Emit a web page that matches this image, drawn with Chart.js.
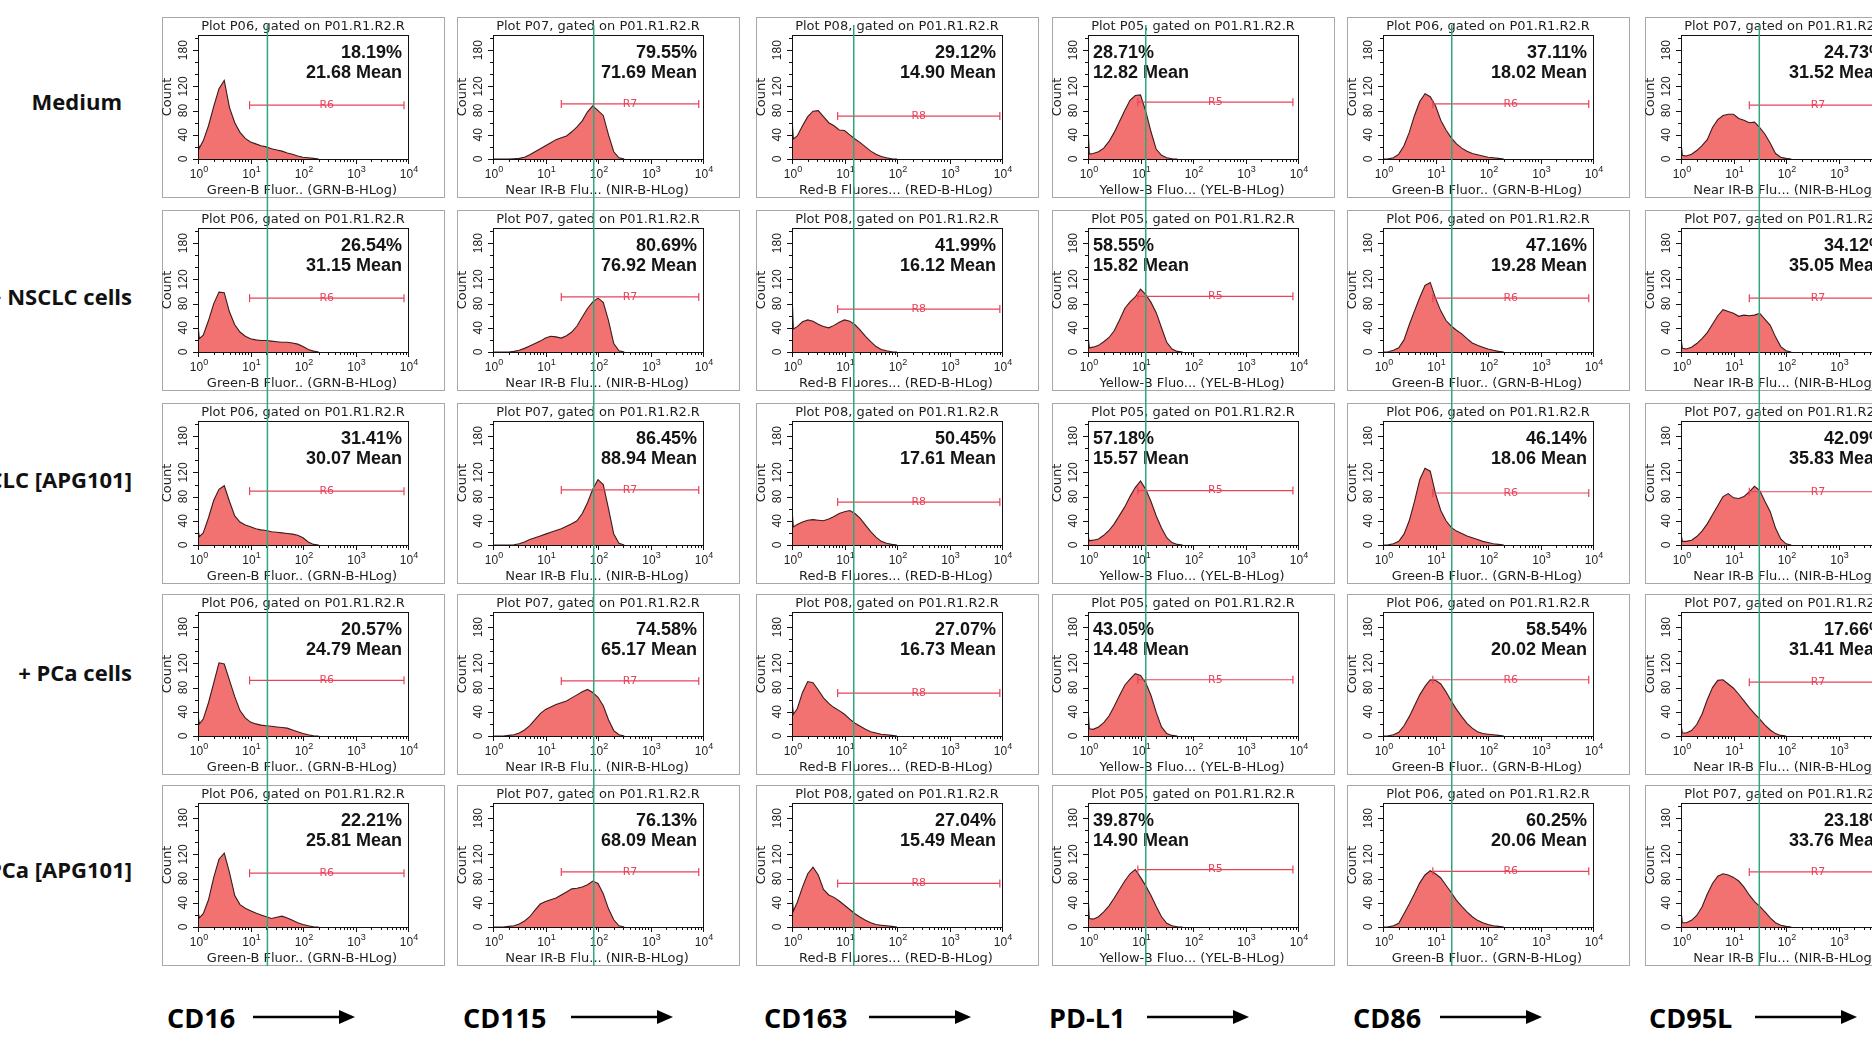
<!DOCTYPE html>
<html>
<head>
<meta charset="utf-8">
<script src="https://cdn.jsdelivr.net/npm/chart.js@4.4.1/dist/chart.umd.min.js"></script>
<style>
html, body { margin: 0; padding: 0; background: #fff; }
body { width: 1872px; height: 1050px; overflow: hidden; position: relative; }
canvas { position: absolute; }
.rowlab { position: absolute; font: 700 22px "Open Sans"; color: #111; white-space: nowrap; transform: translate(-100%, -50%); }
.marker { position: absolute; font: 700 27px "Open Sans"; color: #000; white-space: nowrap; transform: translateY(-50%); }
.arrow { position: absolute; }
</style>
</head>
<body>
<script>
// x positions of the histogram channels (log spaced, 10^0 .. 10^3)
const bins = [1, 1.06, 1.259, 1.585, 1.995, 2.512, 3.162, 3.981, 5.012, 6.31, 7.943,
  10, 12.59, 15.85, 19.95, 25.12, 31.62, 39.81, 50.12, 63.1, 79.43,
  100, 125.9, 158.5, 199.5, 251.2, 316.2, 398.1, 501.2, 631, 794.3, 1000]

const markers = ['CD16', 'CD115', 'CD163', 'PD-L1', 'CD86', 'CD95L']
const plotNames = ['P06', 'P07', 'P08', 'P05', 'P06', 'P07']
const axisTitles = ['Green-B Fluor.. (GRN-B-HLog)', 'Near IR-B Flu... (NIR-B-HLog)', 'Red-B Fluores... (RED-B-HLog)',
  'Yellow-B Fluo... (YEL-B-HLog)', 'Green-B Fluor.. (GRN-B-HLog)', 'Near IR-B Flu... (NIR-B-HLog)']
const gateNames = ['R6', 'R7', 'R8', 'R5', 'R6', 'R7']
const rowLabels = ['Medium', '+ NSCLC cells', '+ NSCLC [APG101]', '+ PCa cells', '+ PCa [APG101]']

const pctRows = [
  ['18.19', '79.55', '29.12', '28.71', '37.11', '24.73'],
  ['26.54', '80.69', '41.99', '58.55', '47.16', '34.12'],
  ['31.41', '86.45', '50.45', '57.18', '46.14', '42.09'],
  ['20.57', '74.58', '27.07', '43.05', '58.54', '17.66'],
  ['22.21', '76.13', '27.04', '39.87', '60.25', '23.18']]
const meanRows = [
  ['21.68', '71.69', '14.90', '12.82', '18.02', '31.52'],
  ['31.15', '76.92', '16.12', '15.82', '19.28', '35.05'],
  ['30.07', '88.94', '17.61', '15.57', '18.06', '35.83'],
  ['24.79', '65.17', '16.73', '14.48', '20.02', '31.41'],
  ['25.81', '68.09', '15.49', '14.90', '20.06', '33.76']]

// counts per channel, one array per row (Medium, +NSCLC, +NSCLC APG101, +PCa, +PCa APG101)
const cd16Counts = [
  [28, 18, 30, 55, 87, 116, 130, 85, 60, 44, 34, 28, 25, 22, 20, 17, 15, 13, 10, 8, 5, 3, 2, 1, 0],
  [45, 22, 28, 52, 80, 99, 98, 66, 45, 33, 26, 22, 20, 19, 19, 18, 17, 16, 16, 15, 13, 9, 4, 1.5, 0],
  [27, 14, 20, 45, 74, 92, 98, 72, 48, 38, 33, 30, 27, 25, 24, 22, 21, 20, 19, 18, 16, 12, 5, 1, 0],
  [35, 20, 28, 55, 88, 121, 119, 92, 65, 42, 30, 23, 20, 18, 17, 16, 15, 14, 13, 10, 7, 4, 2, 0.5, 0],
  [26, 15, 22, 45, 82, 112, 122, 90, 52, 37, 31, 27, 23, 20, 17, 14, 16, 18, 15, 11, 7, 4, 2, 0.5, 0]]
const cd115Counts = [
  [0, 0, 0, 0, 0, 0.5, 1, 3, 7, 12, 17, 22, 27, 32, 35, 38, 45, 53, 63, 78, 88, 80, 72, 40, 12, 2, 0],
  [0, 0, 0, 0, 0, 1, 3, 6, 10, 14, 18, 23, 26, 25, 23, 27, 33, 43, 58, 72, 83, 89, 82, 52, 14, 2, 0],
  [0, 0, 0, 0, 0, 0.5, 2, 5, 9, 12, 15, 18, 21, 24, 27, 31, 35, 40, 52, 70, 92, 108, 100, 60, 18, 3, 0],
  [0, 0, 0, 0, 1, 2, 5, 10, 17, 27, 37, 44, 48, 52, 55, 58, 63, 68, 73, 77, 72, 64, 50, 27, 9, 2, 0],
  [0, 0, 0, 0, 1, 2, 5, 10, 17, 28, 38, 42, 45, 48, 53, 58, 63, 64, 66, 70, 76, 72, 55, 30, 12, 2, 0]]
const cd163Counts = [
  [68, 33, 38, 55, 70, 79, 80, 70, 60, 55, 48, 47, 40, 33, 27, 20, 13, 8, 4, 2, 0.5, 0],
  [100, 38, 42, 50, 53, 51, 46, 42, 40, 44, 49, 53, 51, 45, 36, 26, 17, 9, 4, 2, 0.5, 0],
  [60, 30, 34, 38, 41, 42, 41, 40, 43, 47, 52, 55, 57, 52, 44, 33, 22, 13, 6, 3, 1, 0],
  [60, 36, 45, 72, 90, 88, 76, 63, 54, 47, 42, 36, 28, 21, 16, 11, 7, 5, 3, 2, 1, 0],
  [56, 26, 41, 66, 88, 99, 86, 62, 53, 49, 43, 36, 29, 22, 16, 11, 7, 4, 3, 2, 1, 0]]
const pdl1Counts = [
  [55, 8, 9, 12, 18, 29, 44, 62, 80, 97, 105, 106, 79, 45, 16, 6, 2, 0.5, 0],
  [28, 7, 8, 11, 17, 24, 35, 53, 72, 83, 91, 104, 95, 82, 65, 40, 16, 5, 1, 0],
  [14, 7, 8, 10, 16, 24, 35, 49, 63, 80, 95, 106, 92, 72, 48, 28, 12, 4, 1, 0],
  [48, 12, 11, 15, 22, 33, 49, 67, 84, 94, 103, 100, 88, 67, 39, 15, 4, 1, 0],
  [55, 14, 13, 17, 25, 35, 48, 62, 76, 88, 95, 82, 68, 52, 34, 17, 6, 2, 0.5, 0]]
const cd86Counts = [
  [0, 0, 0.5, 2, 8, 22, 44, 72, 95, 108, 103, 88, 64, 48, 35, 25, 18, 13, 9, 7, 5, 3, 2, 1, 0],
  [0, 0, 0.5, 3, 7, 20, 45, 68, 90, 110, 115, 89, 68, 52, 43, 36, 30, 22, 15, 11, 8, 5, 3, 1, 0],
  [0, 0, 0.5, 2, 6, 18, 40, 72, 108, 127, 122, 85, 57, 40, 29, 23, 19, 15, 12, 9, 6, 4, 2, 1, 0],
  [0, 0, 0.5, 2, 6, 17, 32, 50, 68, 82, 93, 92, 86, 73, 58, 44, 32, 21, 13, 7, 4, 3, 2, 1, 0],
  [0, 0, 0.5, 2, 6, 22, 38, 55, 73, 86, 93, 88, 81, 69, 57, 44, 34, 25, 17, 11, 7, 4, 2, 1, 0]]
const cd95lCounts = [
  [28, 6, 5, 8, 14, 22, 32, 52, 65, 72, 74, 74, 67, 64, 60, 61, 52, 41, 26, 9, 3, 1, 0],
  [23, 6, 5, 8, 14, 22, 32, 46, 60, 70, 67, 64, 59, 61, 60, 61, 64, 54, 44, 25, 9, 2, 0],
  [19, 6, 6, 8, 14, 23, 35, 50, 65, 80, 85, 78, 77, 80, 88, 97, 90, 72, 55, 28, 10, 2, 0],
  [20, 5, 5, 9, 19, 36, 60, 80, 92, 93, 86, 79, 69, 58, 47, 37, 28, 18, 10, 4, 1, 0],
  [28, 7, 7, 11, 19, 33, 54, 72, 84, 88, 86, 82, 76, 66, 53, 42, 34, 25, 15, 7, 3, 1, 0]]
const allCounts = [cd16Counts, cd115Counts, cd163Counts, pdl1Counts, cd86Counts, cd95lCounts]

// gate marker: start / end channel per marker, height (count) per row
const gateLow = [9.6, 20, 7.4, 8.9, 8.9, 20]
const gateHigh = [8400, 8300, 9100, 8000, 8300, 8300]
const gateCounts = [
  [89, 89, 89, 92, 89],
  [91, 91, 91, 91, 91],
  [71, 71, 71, 71, 72],
  [94, 92, 90, 93, 95],
  [91, 89, 86, 93, 92],
  [89, 89, 88, 89, 91]]
// green reference line channel per marker
const greenLine = [21, 83, 15, 12.6, 20.4, 31]

const yTicks = [0, 40, 80, 120, 180]

// page layout
const plotLeft = [198, 493, 792, 1088, 1383, 1681]
const rowTop = [17, 210, 403, 594, 785]
const rowH = [193, 193, 191, 191, 190]
const rowLabelY = [101, 296, 479, 672, 869]
const rowLabelRight = [122, 132, 132, 132, 132]
const markerX = [167, 463, 764, 1049, 1353, 1649]
const arrowX = [253, 571, 869, 1147, 1440, 1755]

const flowPanel = {
  id: 'flowPanel',
  beforeDraw(chart, args, o) {
    const ctx = chart.ctx
    ctx.save()
    ctx.strokeStyle = '#a8a8a8'
    ctx.lineWidth = 1
    ctx.strokeRect(4.5, 7.5, 282, 180)
    ctx.restore()
  },
  afterDatasetsDraw(chart, args, o) {
    const ctx = chart.ctx, a = chart.chartArea
    const { x, y } = chart.scales
    const mid = (a.left + a.right) / 2
    ctx.save()
    ctx.fillStyle = '#1e1e1e'
    ctx.textAlign = 'center'
    ctx.textBaseline = 'middle'
    ctx.font = '13px "DejaVu Sans"'
    ctx.fillText('Plot ' + o.plot + ', gated on P01.R1.R2.R', mid, 17)
    ctx.fillText(o.axis, mid - 1, 181)

    // frame + ticks
    ctx.strokeStyle = '#111'
    ctx.lineWidth = 1
    ctx.strokeRect(a.left + 0.5, a.top + 0.5, a.right - a.left, a.bottom - a.top)
    ctx.beginPath()
    for (let d = 0; d < 4; d++) {
      for (let k = 1; k < 10; k++) {
        const px = Math.round(x.getPixelForValue(k * 10 ** d)) + 0.5
        ctx.moveTo(px, a.bottom)
        ctx.lineTo(px, a.bottom + (k === 1 ? 5 : 3))
      }
    }
    const pEnd = Math.round(x.getPixelForValue(10000)) + 0.5
    ctx.moveTo(pEnd, a.bottom)
    ctx.lineTo(pEnd, a.bottom + 5)
    for (let v = 0; v <= 200; v += 20) {
      const py = Math.round(y.getPixelForValue(v)) + 0.5
      ctx.moveTo(a.left - (yTicks.includes(v) ? 5 : 3), py)
      ctx.lineTo(a.left, py)
    }
    ctx.stroke()

    // x tick labels 10^d
    for (let d = 0; d <= 4; d++) {
      const px = x.getPixelForValue(10 ** d)
      ctx.font = '12px "Liberation Sans"'
      const w1 = ctx.measureText('10').width
      ctx.font = '9px "Liberation Sans"'
      const w2 = ctx.measureText(String(d)).width
      const sx = px - (w1 + w2) / 2 + 1
      ctx.textAlign = 'left'
      ctx.textBaseline = 'alphabetic'
      ctx.font = '12px "Liberation Sans"'
      ctx.fillText('10', sx, a.bottom + 19)
      ctx.font = '9px "Liberation Sans"'
      ctx.fillText(String(d), sx + w1, a.bottom + 13)
    }

    // y tick labels and title, rotated
    ctx.textAlign = 'center'
    ctx.textBaseline = 'middle'
    ctx.font = '12px "Liberation Sans"'
    yTicks.forEach(v => {
      ctx.save()
      ctx.translate(a.left - 14, y.getPixelForValue(v))
      ctx.rotate(-Math.PI / 2)
      ctx.fillText(String(v), 0, 0)
      ctx.restore()
    })
    ctx.save()
    ctx.font = '13px "DejaVu Sans"'
    ctx.translate(a.left - 30, (a.top + a.bottom) / 2)
    ctx.rotate(-Math.PI / 2)
    ctx.fillText('Count', 0, 0)
    ctx.restore()

    // gate label
    const gx = (x.getPixelForValue(o.gateLo) + x.getPixelForValue(o.gateHi)) / 2
    ctx.fillStyle = '#e8435b'
    ctx.font = '11px "DejaVu Sans"'
    ctx.fillText(o.gate, gx, y.getPixelForValue(o.gateY))

    // percentage and mean
    ctx.fillStyle = '#141414'
    ctx.font = 'bold 18px "Liberation Sans"'
    ctx.textBaseline = 'alphabetic'
    if (o.leftText) {
      ctx.textAlign = 'left'
      ctx.fillText(o.pct + '%', a.left + 5, a.top + 23)
      ctx.fillText(o.mean + ' Mean', a.left + 5, a.top + 43)
    } else {
      ctx.textAlign = 'right'
      ctx.fillText(o.pct + '%', a.left + 204, a.top + 23)
      ctx.fillText(o.mean + ' Mean', a.left + 204, a.top + 43)
    }
    ctx.restore()
  },
  afterDraw(chart, args, o) {
    const ctx = chart.ctx
    const gx = chart.scales.x.getPixelForValue(o.green)
    ctx.save()
    ctx.strokeStyle = '#2ea87a'
    ctx.lineWidth = 1.5
    ctx.beginPath()
    ctx.moveTo(gx, o.lineTop)
    ctx.lineTo(gx, o.lineBottom)
    ctx.stroke()
    ctx.restore()
  }
}

function makePanel(c, r) {
  const canvas = document.createElement('canvas')
  canvas.width = 290
  canvas.height = rowH[r]
  canvas.style.left = (plotLeft[c] - 40) + 'px'
  canvas.style.top = (rowTop[r] - 7) + 'px'
  document.body.appendChild(canvas)

  const counts = allCounts[c][r]
  const gy = gateCounts[c][r]
  new Chart(canvas, {
    type: 'line',
    data: {
      datasets: [{
        data: [{ x: gateLow[c], y: gy }, { x: gateHigh[c], y: gy }],
        borderColor: '#e8435b',
        borderWidth: 1.2,
        pointStyle: 'line',
        pointRotation: 90,
        pointRadius: 4,
        pointBorderColor: '#e8435b',
        pointBorderWidth: 1.2,
        fill: false,
        order: 0
      }, {
        data: counts.map((v, i) => ({ x: bins[i], y: v })),
        borderColor: '#3a1c1c',
        borderWidth: 1.1,
        backgroundColor: '#f27272',
        fill: 'origin',
        pointRadius: 0,
        tension: 0,
        order: 1
      }]
    },
    options: {
      responsive: false,
      animation: false,
      events: [],
      layout: { padding: { left: 40, right: 40, top: 25, bottom: rowH[r] - 149 } },
      scales: {
        x: { type: 'logarithmic', min: 1, max: 10000, display: false },
        y: { type: 'linear', min: 0, max: 205, display: false }
      },
      plugins: {
        legend: { display: false },
        tooltip: { enabled: false },
        flowPanel: {
          plot: plotNames[c],
          axis: axisTitles[c],
          gate: gateNames[c],
          gateLo: gateLow[c],
          gateHi: gateHigh[c],
          gateY: gy,
          pct: pctRows[r][c],
          mean: meanRows[r][c],
          leftText: c === 3,
          green: greenLine[c],
          lineTop: r === 0 ? 15 : 0,
          lineBottom: r === 4 ? rowH[r] - 2 : rowH[r]
        }
      }
    },
    plugins: [flowPanel]
  })
}

for (let c = 0; c < 6; c++) {
  for (let r = 0; r < 5; r++) makePanel(c, r)
}

rowLabels.forEach((t, r) => {
  const d = document.createElement('div')
  d.className = 'rowlab'
  d.textContent = t
  d.style.left = rowLabelRight[r] + 'px'
  d.style.top = rowLabelY[r] + 'px'
  document.body.appendChild(d)
})

markers.forEach((t, i) => {
  const d = document.createElement('div')
  d.className = 'marker'
  d.textContent = t
  d.style.left = markerX[i] + 'px'
  d.style.top = '1017px'
  document.body.appendChild(d)
  const s = document.createElementNS('http://www.w3.org/2000/svg', 'svg')
  s.setAttribute('class', 'arrow')
  s.setAttribute('width', '104')
  s.setAttribute('height', '16')
  s.style.left = arrowX[i] + 'px'
  s.style.top = '1009px'
  s.innerHTML = '<line x1="0" y1="8" x2="90" y2="8" stroke="#000" stroke-width="2.5"/>' +
    '<polygon points="86,1 102,8 86,15" fill="#000"/>'
  document.body.appendChild(s)
})
</script>
</body>
</html>
